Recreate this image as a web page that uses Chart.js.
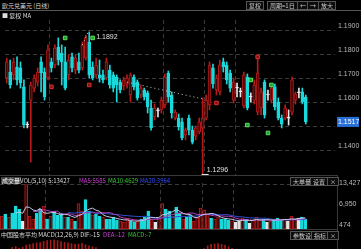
<!DOCTYPE html>
<html>
<head>
<meta charset="utf-8">
<script src="https://cdn.jsdelivr.net/npm/chart.js@4.4.0/dist/chart.umd.min.js"></script>
<style>
html, body { margin: 0; padding: 0; background: #000; width: 361px; height: 249px; overflow: hidden; }
body { position: relative; font-family: "Noto Sans CJK SC", "Noto Sans", sans-serif; font-size: 6px; color: #ccc; }
canvas { position: absolute; left: 0; }
.t { position: absolute; white-space: nowrap; line-height: 7px; font-size: 6px; }
.btn { position: absolute; border: 1px solid #555; background: #0c0c0c; color: #ccc; height: 7px; line-height: 7px; padding: 0 2px; font-size: 6px; white-space: nowrap; }
.hl { position: absolute; height: 1px; background: #3a3a3a; }
.vl { position: absolute; width: 1px; background: #3a3a3a; }
</style>
</head>
<body>
<canvas id="main" width="361" height="172" style="top:12px"></canvas>
<canvas id="vol" width="361" height="81" style="top:168px"></canvas>

<div class="t" style="left:2px;top:2px;color:#ddd">欧元兑美元 (日线)</div>
<div class="hl" style="left:0;top:10px;width:361px;background:#555"></div>
<div class="t" style="left:2px;top:12px;color:#ddd">■ 复权 MA</div>
<div class="btn" style="left:246px;top:1px">复权</div>
<div class="btn" style="left:267px;top:1px">周期=1日</div>
<div class="btn" style="left:297px;top:1px">←</div>
<div class="btn" style="left:307px;top:1px">→</div>
<div class="btn" style="left:318px;top:1px">放大</div>

<div class="hl" style="left:0;top:175px;width:337px"></div>
<div class="hl" style="left:0;top:229px;width:337px"></div>
<div class="vl" style="left:337px;top:175px;height:74px"></div>
<div class="t" style="left:1px;top:177px;background:#444;color:#fff;padding:0 1px">成交量</div>
<div class="t" style="left:20px;top:177px;color:#ddd">VOL(5,10) 5:13427</div>
<div class="t" style="left:79px;top:177px;color:#d040d8">MA5:5585</div>
<div class="t" style="left:108px;top:177px;color:#38c838">MA10:4629</div>
<div class="t" style="left:140px;top:177px;color:#3050ff">MA20:3964</div>
<div class="btn" style="left:290px;top:177px">大单量</div>
<div class="btn" style="left:310px;top:177px">设置</div>
<div class="btn" style="left:327px;top:177px">×</div>

<div class="t" style="left:1px;top:231px;color:#ddd">中国股市平均 MACD(12,26,9) DIF:-15</div>
<div class="t" style="left:103px;top:231px;color:#d040d8">DEA:-12</div>
<div class="t" style="left:128px;top:231px;color:#38c838">MACD:-7</div>
<div class="btn" style="left:290px;top:231px">参数设置</div>
<div class="btn" style="left:311px;top:231px">指标</div>
<div class="btn" style="left:327px;top:231px">×</div>

<script>
// daily candles
const open = [1.1700,1.1725,1.1713,1.1746,1.1742,1.1663,1.1504,1.1608,1.1658,1.1683,
  1.1767,1.1725,1.1700,1.1767,1.1754,1.1829,1.1804,1.1767,1.1713,1.1788,
  1.1733,1.1767,1.1742,1.1783,1.1850,1.1746,1.1713,1.1713,1.1713,1.1700,
  1.1733,1.1713,1.1704,1.1683,1.1667,1.1675,1.1629,1.1704,1.1683,1.1629,
  1.1650,1.1638,1.1575,1.1538,1.1563,1.1567,1.1588,1.1721,1.1629,1.1533,
  1.1533,1.1517,1.1463,1.1533,1.1483,1.1458,1.1475,1.1492,1.1533,1.1588,
  1.1742,1.1650,1.1642,1.1767,1.1754,1.1721,1.1608,1.1658,1.1642,1.1583,
  1.1704,1.1621,1.1608,1.1558,1.1575,1.1683,1.1629,1.1608,1.1663,1.1600,
  1.1533,1.1533,1.1533,1.1558,1.1608,1.1638,1.1642,1.1621];
const high = [1.1783,1.1775,1.1783,1.1788,1.1767,1.1692,1.1517,1.1683,1.1713,1.1742,
  1.1788,1.1742,1.1838,1.1783,1.1838,1.1867,1.1838,1.1829,1.1796,1.1804,
  1.1796,1.1804,1.1850,1.1879,1.1892,1.1767,1.1783,1.1775,1.1733,1.1783,
  1.1754,1.1725,1.1713,1.1692,1.1704,1.1713,1.1721,1.1713,1.1692,1.1671,
  1.1658,1.1646,1.1608,1.1592,1.1575,1.1621,1.1717,1.1729,1.1642,1.1567,
  1.1550,1.1533,1.1492,1.1546,1.1500,1.1500,1.1533,1.1617,1.1629,1.1767,
  1.1758,1.1713,1.1775,1.1783,1.1767,1.1733,1.1700,1.1679,1.1658,1.1725,
  1.1717,1.1638,1.1692,1.1788,1.1658,1.1692,1.1650,1.1671,1.1675,1.1617,
  1.1546,1.1588,1.1567,1.1704,1.1642,1.1658,1.1658,1.1629];
const low = [1.1679,1.1658,1.1692,1.1671,1.1658,1.1492,1.1492,1.1350,1.1642,1.1667,
  1.1642,1.1608,1.1692,1.1725,1.1742,1.1754,1.1671,1.1650,1.1692,1.1725,
  1.1717,1.1721,1.1733,1.1775,1.1700,1.1692,1.1700,1.1683,1.1679,1.1692,
  1.1658,1.1642,1.1600,1.1638,1.1650,1.1658,1.1600,1.1650,1.1608,1.1617,
  1.1608,1.1554,1.1483,1.1525,1.1538,1.1554,1.1575,1.1600,1.1533,1.1525,
  1.1483,1.1442,1.1442,1.1463,1.1425,1.1442,1.1467,1.1296,1.1525,1.1567,
  1.1658,1.1629,1.1629,1.1725,1.1675,1.1642,1.1596,1.1621,1.1621,1.1575,
  1.1567,1.1600,1.1592,1.1546,1.1546,1.1533,1.1608,1.1596,1.1567,1.1525,
  1.1492,1.1525,1.1504,1.1546,1.1592,1.1617,1.1592,1.1508];
const close = [1.1767,1.1671,1.1767,1.1692,1.1679,1.1504,1.1504,1.1671,1.1700,1.1725,
  1.1721,1.1621,1.1817,1.1742,1.1825,1.1775,1.1767,1.1658,1.1775,1.1742,
  1.1783,1.1733,1.1838,1.1867,1.1713,1.1700,1.1754,1.1700,1.1692,1.1767,
  1.1671,1.1658,1.1671,1.1650,1.1692,1.1700,1.1713,1.1663,1.1617,1.1658,
  1.1621,1.1579,1.1492,1.1575,1.1563,1.1608,1.1704,1.1621,1.1554,1.1558,
  1.1496,1.1450,1.1483,1.1483,1.1433,1.1492,1.1517,1.1533,1.1608,1.1754,
  1.1675,1.1700,1.1754,1.1746,1.1692,1.1658,1.1683,1.1658,1.1642,1.1713,
  1.1575,1.1621,1.1671,1.1721,1.1642,1.1546,1.1629,1.1658,1.1579,1.1533,
  1.1508,1.1575,1.1533,1.1692,1.1633,1.1638,1.1600,1.1517];
const volume = [3900,4500,3600,4800,6900,6000,2400,13400,3900,3000,
  4800,6000,6900,3000,3900,5400,4200,4800,3600,3600,
  3000,2400,7700,5400,8900,5400,4200,4500,3900,3600,
  3000,3000,3600,2700,2400,2100,3000,2400,2100,2400,
  3000,3600,5400,3000,2100,3300,7700,6000,5400,3900,
  6600,4800,3000,3600,4200,2400,3600,6300,5700,4500,
  3300,3000,3600,3000,3000,2700,2400,2100,2400,3300,
  3000,1800,2700,3600,2700,3000,2100,2400,3000,3300,
  2700,3000,2400,3900,3000,3300,3600,3000];
const macd = [-0.0004,-0.0002,-0.0001,0.0018,0.0020,0.0016,0.0019,0.0024,0.0026,0.0028,
  0.0030,0.0031,0.0034,0.0036,0.0037,0.0038,0.0036,0.0033,0.0031,0.0030,
  0.0028,0.0026,0.0027,0.0029,0.0025,0.0022,0.0020,0.0018,0.0012,0.0008,
  -0.0003,-0.0006,-0.0009,-0.0011,-0.0012,-0.0012,-0.0013,-0.0015,-0.0016,-0.0017,
  -0.0019,-0.0021,-0.0024,-0.0023,-0.0022,-0.0020,-0.0016,-0.0015,-0.0016,-0.0017,
  -0.0018,-0.0020,-0.0020,-0.0019,-0.0020,-0.0018,-0.0015,0.0008,0.0015,0.0022,
  0.0026,0.0027,0.0028,0.0026,0.0024,0.0020,0.0016,0.0010,-0.0002,-0.0004,
  -0.0006,-0.0007,-0.0006,-0.0005,-0.0007,-0.0008,-0.0008,-0.0007,-0.0009,-0.0011,
  -0.0012,-0.0011,-0.0010,-0.0008,-0.0008,-0.0007,-0.0008,-0.0010];

// 96 slots, the last few are left empty on the right like the terminal does
const days = Array.from({ length: 96 }, (_, i) => 'D' + (i + 1));
const monthStarts = [13, 46, 58, 67];
const priceTicks = [1.14, 1.15, 1.16, 1.17, 1.18, 1.19];
const volTicks = [474, 6950, 13427];

// signal markers on the candles
const greenIdx = [17, 25, 70, 71, 76, 77];
const greenVal = [1.1867, 1.1867, 1.1504, 1.1692, 1.1471, 1.1671];
const redIdx = [13, 24, 61, 73];
const redVal = [1.1663, 1.1671, 1.1596, 1.1788];
// dotted trend lines [index, price]
const trendA = [[22, 1.1838], [24, 1.1900]];
const trendB = [[35, 1.1683], [57, 1.1613]];

const UP = '#b81a1a', UP_FILL = '#3c0707', DOWN = '#19d9dc', FLAT = '#e6e6e6';
const dir = open.map((o, i) => close[i] > o ? 1 : close[i] < o ? -1 : 0);
const edge = d => d > 0 ? UP : d < 0 ? DOWN : FLAT;
const fill = d => d > 0 ? UP_FILL : d < 0 ? DOWN : FLAT;

function toPoints(arr, val) {
  return arr.map((i, k) => ({ x: days[i], y: val[k] }));
}
function movingAvg(arr, n) {
  return arr.map((_, i) => i < n - 1 ? null : arr.slice(i - n + 1, i + 1).reduce((a, b) => a + b, 0) / n);
}

const xAxis = {
  type: 'category',
  offset: true,
  grid: {
    offset: true,
    drawTicks: false,
    color: ctx => monthStarts.includes(ctx.index) ? '#3a3a3a' : 'transparent'
  },
  border: { display: false, dash: [4, 3] },
  ticks: { display: false, autoSkip: false },
  afterFit: s => { s.height = 0; }
};

const priceMarks = {
  id: 'priceMarks',
  afterDatasetsDraw(chart) {
    const { ctx, chartArea } = chart;
    const x = chart.scales.x, y = chart.scales.y;
    ctx.save();
    ctx.font = '7px "Liberation Sans", sans-serif';
    ctx.textBaseline = 'middle';
    const hi = Math.max(...high), hiI = high.indexOf(hi);
    const lo = Math.min(...low), loI = low.indexOf(lo);
    ctx.fillStyle = '#e0e0e0';
    ctx.fillText(hi.toFixed(4), x.getPixelForValue(hiI) + 7, y.getPixelForValue(hi) + 5);
    const lx = x.getPixelForValue(loI), ly = y.getPixelForValue(lo);
    ctx.fillRect(lx - 1, ly - 1, 7, 1.5);
    ctx.fillText(lo.toFixed(4), lx + 4, ly - 5);
    const last = close[close.length - 1];
    const py = y.getPixelForValue(last);
    ctx.fillStyle = '#2870d8';
    ctx.fillRect(chartArea.right + 2, py - 5, 22, 10);
    ctx.fillStyle = '#fff';
    ctx.fillText(last.toFixed(4), chartArea.right + 3, py);
    ctx.restore();
  }
};

new Chart(document.getElementById('main'), {
  data: {
    labels: days,
    datasets: [
      { type: 'line', data: toPoints(greenIdx, greenVal), showLine: false, pointStyle: 'rect',
        pointRadius: 2.5, backgroundColor: '#1f9e2a', borderColor: '#5fe35f', borderWidth: 1 },
      { type: 'line', data: toPoints(redIdx, redVal), showLine: false, pointStyle: 'rect',
        pointRadius: 2.5, backgroundColor: '#8a1010', borderColor: '#e03030', borderWidth: 1 },
      { type: 'line', data: trendA.map(p => ({ x: days[p[0]], y: p[1] })), borderColor: '#ddd',
        borderWidth: 1, borderDash: [1, 3], pointRadius: 0 },
      { type: 'line', data: trendB.map(p => ({ x: days[p[0]], y: p[1] })), borderColor: '#ccc',
        borderWidth: 1, borderDash: [1, 3], pointRadius: 0 },
      { type: 'bar', data: open.map((o, i) => [Math.min(o, close[i]), Math.max(o, close[i])]),
        backgroundColor: dir.map(fill), borderColor: dir.map(edge), borderWidth: 1, borderSkipped: false,
        barThickness: 3, minBarLength: 1, grouped: false },
      { type: 'bar', data: low.map((l, i) => [l, high[i]]), backgroundColor: dir.map(edge),
        barThickness: 1, grouped: false }
    ]
  },
  options: {
    responsive: false, animation: false, devicePixelRatio: 1,
    layout: { padding: { top: 8, bottom: 8, left: 0, right: 0 } },
    plugins: { legend: { display: false }, tooltip: { enabled: false } },
    scales: {
      x: xAxis,
      y: {
        position: 'right', min: 1.129167, max: 1.194167,
        afterBuildTicks: s => { s.ticks = priceTicks.map(v => ({ value: v })); },
        afterFit: s => { s.width = 26; },
        grid: { color: '#3a3a3a', drawTicks: false },
        border: { display: false, dash: [4, 3] },
        ticks: { color: '#b8b8b8', padding: 3, labelOffset: -4,
          font: { size: 7, family: '"Liberation Sans", sans-serif' },
          callback: v => v.toFixed(4) }
      }
    }
  },
  plugins: [priceMarks]
});

// volume panel plus the top of the MACD panel below it (its zero line is under the window edge)
new Chart(document.getElementById('vol'), {
  data: {
    labels: days,
    datasets: [
      { type: 'line', data: movingAvg(volume, 5), borderColor: '#c8c8e8', borderWidth: 1, pointRadius: 0 },
      { type: 'line', data: movingAvg(volume, 10), borderColor: '#b040c0', borderWidth: 1, pointRadius: 0 },
      { type: 'line', data: movingAvg(volume, 20), borderColor: '#3050d0', borderWidth: 1, pointRadius: 0 },
      { type: 'bar', data: volume, backgroundColor: dir.map(fill), borderColor: dir.map(edge),
        borderWidth: 1, borderSkipped: false, barThickness: 3, grouped: false },
      { type: 'bar', yAxisID: 'm', data: macd, base: -0.01, clip: false,
        backgroundColor: macd.map(v => v >= 0 ? '#a81a1a' : '#19d9dc'), barThickness: 1, grouped: false }
    ]
  },
  options: {
    responsive: false, animation: false, devicePixelRatio: 1,
    layout: { padding: { top: 15, bottom: 20, left: 0, right: 0 } },
    plugins: { legend: { display: false }, tooltip: { enabled: false } },
    scales: {
      x: xAxis,
      y: {
        position: 'right', min: 0, max: 13900,
        afterBuildTicks: s => { s.ticks = volTicks.map(v => ({ value: v })); },
        afterFit: s => { s.width = 26; },
        grid: { color: ctx => ctx.index === 2 ? '#3a3a3a' : 'transparent', drawTicks: false },
        border: { display: false, dash: [4, 3] },
        ticks: { color: '#b8b8b8', padding: 4, labelOffset: -2,
          font: { size: 7, family: '"Liberation Sans", sans-serif' } }
      },
      // MACD sits under the volume area: 0.0040 lands at page y 239, 0.0014 at the bottom edge
      m: { position: 'right', display: false, min: 0.0066, max: 0.01856 }
    }
  }
});
</script>
</body>
</html>
